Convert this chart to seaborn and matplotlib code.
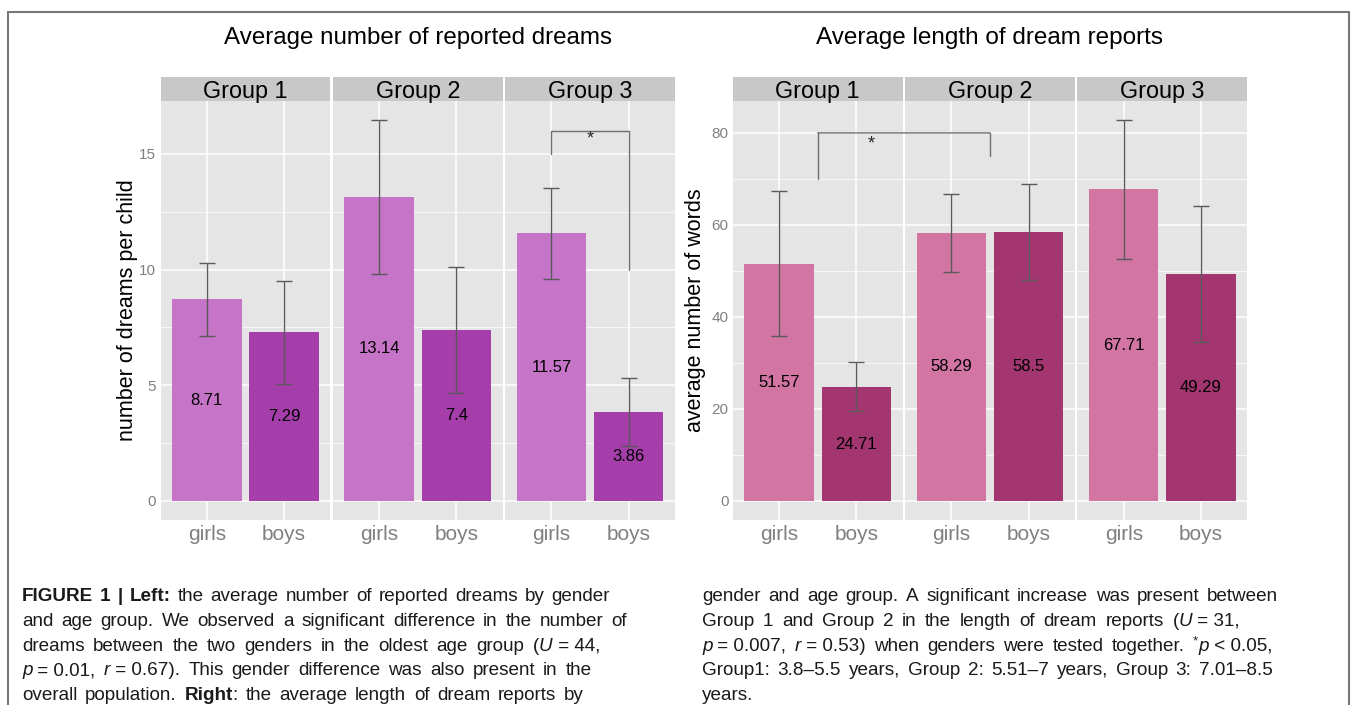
import re
import numpy as np
import pandas as pd
import matplotlib
matplotlib.use("Agg")
import matplotlib.pyplot as plt
from matplotlib.patches import Rectangle, ConnectionPatch
from matplotlib.lines import Line2D
from matplotlib.ticker import MultipleLocator
import seaborn as sns

# ---------------------------------------------------------------- data
groups = ["Group 1", "Group 2", "Group 3"]
genders = ["girls", "boys"]

dreams_girls = [8.71, 13.14, 11.57]
dreams_boys = [7.29, 7.40, 3.86]
dreams_girls_lo = [7.12, 9.80, 9.61]
dreams_girls_hi = [10.30, 16.46, 13.54]
dreams_boys_lo = [5.07, 4.68, 2.39]
dreams_boys_hi = [9.50, 10.09, 5.33]

words_girls = [51.57, 58.29, 67.71]
words_boys = [24.71, 58.50, 49.29]
words_girls_lo = [35.8, 49.7, 52.5]
words_girls_hi = [67.3, 66.8, 82.8]
words_boys_lo = [19.6, 48.0, 34.5]
words_boys_hi = [30.1, 69.0, 64.2]

dreams_ticks = [0, 5, 10, 15]
words_ticks = [0, 20, 40, 60, 80]

caption_left = [
    "**FIGURE** **1** **|** **Left:** the average number of reported dreams by gender",
    "and age group. We observed a significant difference in the number of",
    "dreams between the two genders in the oldest age group (_U_~=~44,",
    "_p_~=~0.01, _r_~=~0.67). This gender difference was also present in the",
    "overall population. **Right**: the average length of dream reports by",
]
caption_right = [
    "gender and age group. A significant increase was present between",
    "Group 1 and Group 2 in the length of dream reports (_U_~=~31,",
    "_p_~=~0.007, _r_~=~0.53) when genders were tested together. ^*^_p_~<~0.05,",
    "Group1: 3.8\u20135.5 years, Group 2: 5.51\u20137 years, Group 3: 7.01\u20138.5",
    "years.",
]
caption_left_ends = [610, 627, 600, 592, 584]
caption_right_ends = [1278, 1240, 1272, 1273, None]


def make_frame(girls, boys, g_lo, g_hi, b_lo, b_hi):
    rows = []
    for i, g in enumerate(groups):
        rows.append((g, "girls", girls[i], g_lo[i], g_hi[i]))
        rows.append((g, "boys", boys[i], b_lo[i], b_hi[i]))
    return pd.DataFrame(rows, columns=["group", "gender", "value", "lo", "hi"])


df_dreams = make_frame(dreams_girls, dreams_boys, dreams_girls_lo,
                       dreams_girls_hi, dreams_boys_lo, dreams_boys_hi)
df_words = make_frame(words_girls, words_boys, words_girls_lo,
                      words_girls_hi, words_boys_lo, words_boys_hi)

# ---------------------------------------------------------------- style
sns.set_theme(style="white")
plt.rcParams["font.family"] = ["Liberation Sans", "DejaVu Sans"]

W, H = 1357, 705
fig = plt.figure(figsize=(W / 100, H / 100), dpi=100)
fig.patch.set_facecolor("white")

PANEL_BG = "#E5E5E5"
STRIP_BG = "#C8C8C8"
TICK_GREY = "#808080"
ERR_GREY = "#5A5A5A"
PANEL_TOP, PANEL_BOTTOM = 101, 520
STRIP_H = 24
FACET_W, FACET_GAP = 169.8, 2.5


def px_axes(x0, x1, y0, y1):
    return fig.add_axes([x0 / W, 1 - y1 / H, (x1 - x0) / W, (y1 - y0) / H])


def draw_block(df, left_px, palette, ticks, minor_step, ylabel, title,
               title_size, label_x, fmt):
    ymax = df["hi"].max()
    pad = 0.05 * ymax
    axes = []
    for i, g in enumerate(groups):
        x0 = left_px + i * (FACET_W + FACET_GAP)
        ax = px_axes(x0, x0 + FACET_W, PANEL_TOP, PANEL_BOTTOM)
        sub = df[df["group"] == g]
        sns.barplot(data=sub, x="gender", y="value", hue="gender",
                    order=genders, hue_order=genders, palette=palette,
                    width=0.9, errorbar=None, legend=False, saturation=1,
                    linewidth=0, ax=ax, zorder=2)
        vals = sub.set_index("gender").loc[genders]
        xs = np.arange(len(genders))
        ax.errorbar(xs, vals["value"],
                    yerr=[vals["value"] - vals["lo"], vals["hi"] - vals["value"]],
                    fmt="none", ecolor=ERR_GREY, elinewidth=1.0,
                    capsize=5.5, capthick=1.0, zorder=3)
        for x, v in zip(xs, vals["value"]):
            ax.text(x, v / 2, fmt(v), ha="center", va="center",
                    fontsize=12, color="black", zorder=4)

        ax.set_xlim(-0.6, 1.6)
        ax.set_ylim(-pad, ymax + pad)
        ax.set_facecolor(PANEL_BG)
        ax.set_axisbelow(True)
        ax.set_yticks(ticks)
        ax.yaxis.set_minor_locator(MultipleLocator(minor_step))
        ax.grid(which="major", color="white", linewidth=1.1)
        ax.grid(which="minor", axis="y", color="white", linewidth=0.5)
        for s in ax.spines.values():
            s.set_visible(False)
        ax.set_xlabel("")
        ax.set_ylabel("")
        ax.tick_params(axis="x", length=3, width=0.8, color="#A0A0A0",
                       labelsize=15, labelcolor=TICK_GREY, pad=0.5)
        ax.tick_params(axis="y", length=2.5, width=0.8, color="#A0A0A0",
                       labelsize=11, labelcolor=TICK_GREY, pad=0.6)
        ax.tick_params(axis="y", which="minor", length=0)
        if i > 0:
            ax.tick_params(axis="y", left=False, labelleft=False)
        else:
            ax.set_ylabel(ylabel, fontsize=15.5, color="black")
            ax.yaxis.set_label_coords(label_x, 0.5)

        hfrac = STRIP_H / (PANEL_BOTTOM - PANEL_TOP)
        ax.add_patch(Rectangle((0, 1), 1, hfrac, transform=ax.transAxes,
                               clip_on=False, facecolor=STRIP_BG,
                               edgecolor="none"))
        ax.text(0.5, 1 + hfrac / 2, g, transform=ax.transAxes, ha="center",
                va="center_baseline", fontsize=16.8, color="black")
        axes.append(ax)

    right_px = left_px + 3 * FACET_W + 2 * FACET_GAP
    fig.text((left_px + right_px) / 2 / W, 1 - 38 / H, title, ha="center",
             va="center", fontsize=title_size, color="black")
    return axes


left_axes = draw_block(
    df_dreams, 160.5, {"girls": "#C674C8", "boys": "#A53DAA"},
    dreams_ticks, 2.5, "number of dreams per child",
    "Average number of reported dreams", 17.4, -0.13,
    lambda v: f"{v:g}")

right_axes = draw_block(
    df_words, 732.8, {"girls": "#D275A3", "boys": "#A33670"},
    words_ticks, 10, "average number of words",
    "Average length of dream reports", 17.5, -0.16,
    lambda v: f"{v:g}")

BRACKET = "#6E6E6E"

# girls vs boys in the oldest group
ax3 = left_axes[2]
ax3.plot([0, 0, 1, 1], [15, 16, 16, 10], color=BRACKET, lw=1.0,
         zorder=3, clip_on=False)
ax3.text(0.5, 15.65, "*", ha="center", va="center", fontsize=13, zorder=4)

# Group 1 vs Group 2 (genders pooled)
ra, rb = right_axes[0], right_axes[1]
ra.plot([0.5, 0.5], [70, 80], color=BRACKET, lw=1.0, zorder=3)
rb.plot([0.5, 0.5], [80, 75], color=BRACKET, lw=1.0, zorder=3)
con = ConnectionPatch(xyA=(0.5, 80), coordsA=ra.transData,
                      xyB=(0.5, 80), coordsB=rb.transData,
                      color=BRACKET, lw=1.0, zorder=3)
fig.add_artist(con)
ra.text(1.19, 77.7, "*", ha="center", va="center", fontsize=13, zorder=4)

# ---------------------------------------------------------------- frame
frame_kw = dict(color="#777777", lw=1.5, transform=fig.transFigure)
fig.add_artist(Line2D([7.5 / W, 7.5 / W], [0, 1 - 12 / H], **frame_kw))
fig.add_artist(Line2D([1348.5 / W, 1348.5 / W], [0, 1 - 12 / H], **frame_kw))
fig.add_artist(Line2D([7.5 / W, 1348.5 / W], [1 - 12 / H, 1 - 12 / H],
                      **frame_kw))

# ---------------------------------------------------------------- caption
renderer = fig.canvas.get_renderer()
CAP_SIZE = 13.6
SEG_RE = re.compile(r"\*\*(.+?)\*\*|\^(.+?)\^|_(.+?)_|([^*_^]+)")


def parse_token(tok):
    segs = []
    for m in SEG_RE.finditer(tok):
        if m.group(1):
            segs.append((m.group(1), "bold"))
        elif m.group(2):
            segs.append((m.group(2), "sup"))
        elif m.group(3):
            segs.append((m.group(3), "italic"))
        else:
            segs.append((m.group(4), "normal"))
    return [(t.replace("~", " "), s) for t, s in segs]


def seg_props(style):
    kw = dict(fontsize=CAP_SIZE, fontweight="normal", fontstyle="normal")
    if style == "bold":
        kw["fontweight"] = "bold"
    elif style == "italic":
        kw["fontstyle"] = "italic"
    elif style == "sup":
        kw["fontsize"] = CAP_SIZE * 0.7
    return kw


def seg_width(txt, style):
    t = fig.text(0, 0, txt, transform=None, **seg_props(style))
    w = t.get_window_extent(renderer).width
    t.remove()
    return w


def draw_line(line, x_start, y_base, x_end):
    tokens = [parse_token(t) for t in line.split(" ")]
    widths = [sum(seg_width(t, s) for t, s in tok) for tok in tokens]
    if x_end is None or len(tokens) < 2:
        gap = 7.0
    else:
        gap = (x_end - x_start - sum(widths)) / (len(tokens) - 1)
    x = x_start
    for tok, w in zip(tokens, widths):
        xx = x
        for txt, style in tok:
            dy = 6 if style == "sup" else 0
            fig.text(xx, H - y_base + dy, txt, transform=None, ha="left",
                     va="baseline", color="#1A1A1A", **seg_props(style))
            xx += seg_width(txt, style)
        x += w + gap


for k, (ln, end) in enumerate(zip(caption_left, caption_left_ends)):
    draw_line(ln, 22, 601 + 24.8 * k, end)
for k, (ln, end) in enumerate(zip(caption_right, caption_right_ends)):
    draw_line(ln, 702, 601 + 24.8 * k, end)

fig.savefig("out.png", dpi=100, facecolor="white")
